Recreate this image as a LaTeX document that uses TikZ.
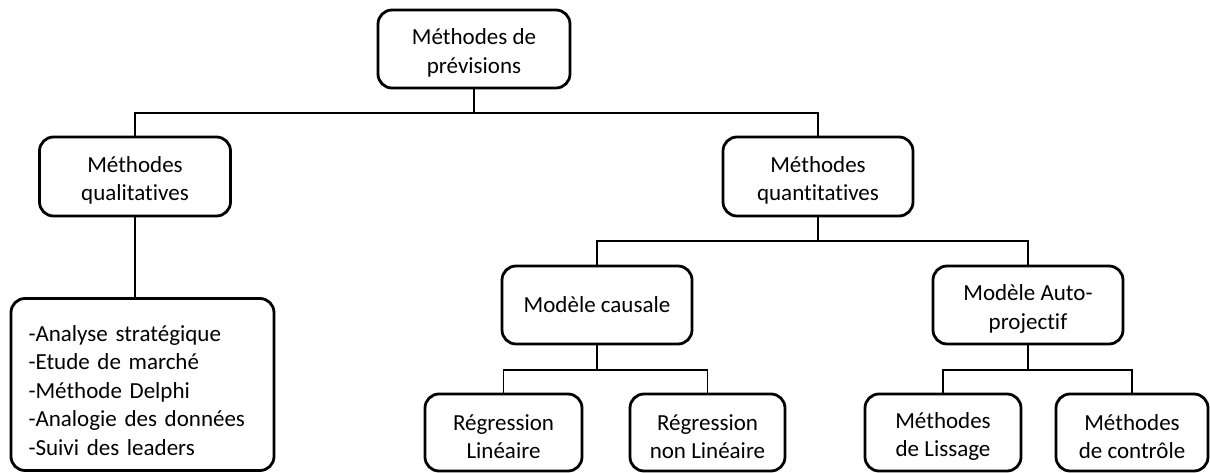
\documentclass[tikz,border=0pt]{standalone}
\usepackage{fontspec}
\setmainfont{Carlito}[Ligatures={NoCommon}]
% invisible strut that lowers two-line labels slightly inside their frames
\newcommand{\lowerstrut}{\rule{0pt}{24pt}}
\begin{document}
\begin{tikzpicture}[x=1pt,y=-1pt,
  box/.style={draw=black, line width=2.8pt, rounded corners=14pt, fill=white,
    align=center, inner sep=0pt, font=\fontsize{23}{28.5}\selectfont},
  link/.style={draw=black, line width=1.5pt}]
\useasboundingbox (0,0) rectangle (1210,473);

% top level
\node[box, minimum width=192pt, minimum height=78pt] (top) at (474,49) {\lowerstrut Méthodes de\\prévisions};

% second level
\node[box, minimum width=191pt, minimum height=79pt] (qual) at (135,176.5) {\lowerstrut Méthodes\\qualitatives};
\node[box, minimum width=190pt, minimum height=79pt] (quant) at (818,176.5) {\lowerstrut Méthodes\\quantitatives};

% qualitative methods list
\node[box, minimum width=263pt, minimum height=172pt, align=left, text width=228pt] (list) at (142.5,384.5)
  {\rule{0pt}{28pt}-Analyse stratégique\\-Etude de marché\\-Méthode Delphi\\-Analogie des données\\-Suivi des leaders};

% quantitative models
\node[box, minimum width=190pt, minimum height=78pt] (causal) at (597,305) {Modèle causale};
\node[box, minimum width=190pt, minimum height=78pt] (auto) at (1028,305) {\lowerstrut Modèle Auto-\\projectif};

% leaves
\node[box, minimum width=157pt, minimum height=77pt] (rl) at (503.5,432.5) {\lowerstrut Régression\\Linéaire};
\node[box, minimum width=155pt, minimum height=77pt] (rnl) at (707.5,432.5) {\lowerstrut Régression\\non Linéaire};
\node[box, minimum width=156pt, minimum height=77pt] (lis) at (943,432.5) {\lowerstrut Méthodes\\de Lissage};
\node[box, minimum width=152pt, minimum height=77pt] (ctl) at (1132,432.5) {\lowerstrut Méthodes\\de contrôle};

% bus points
\coordinate (b1) at (474,113);
\coordinate (b2) at (818,241);
\coordinate (b3) at (597,370);
\coordinate (b4) at (1028,370);

% connectors
\draw[link] (top.south) -- (b1);
\draw[link] (qual.north) |- (b1) -| (quant.north);
\draw[link] (qual.south) -- (qual.south |- list.north);
\draw[link] (quant.south) -- (b2);
\draw[link] (causal.north) |- (b2) -| (auto.north);
\draw[link] (causal.south) -- (b3);
\draw[link] (rl.north) |- (b3) -| (rnl.north);
\draw[link] (auto.south) -- (b4);
\draw[link] (lis.north) |- (b4) -| (ctl.north);
\end{tikzpicture}
\end{document}
